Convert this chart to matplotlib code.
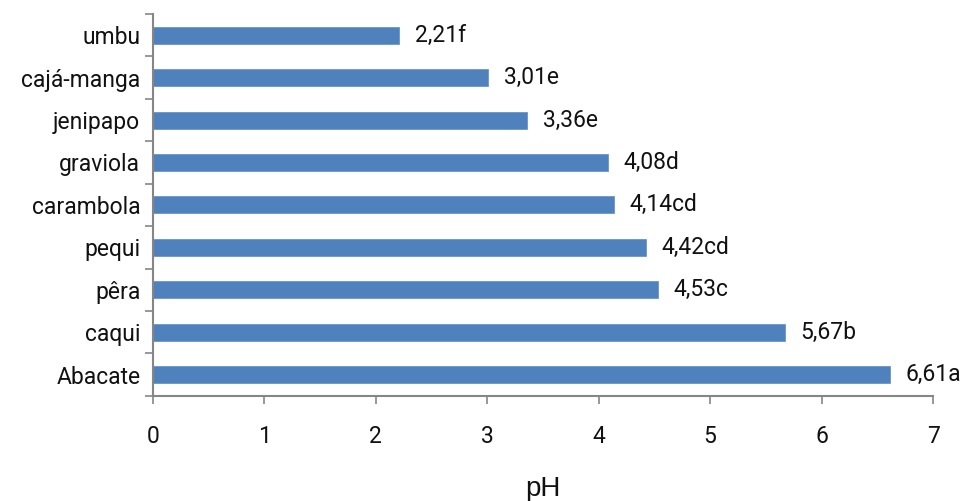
import matplotlib.pyplot as plt
import numpy as np

plt.rcParams["font.family"] = ["Roboto", "DejaVu Sans"]

frutas = ["Abacate", "caqui", "pêra", "pequi", "carambola",
          "graviola", "jenipapo", "cajá-manga", "umbu"]
ph = [6.61, 5.67, 4.53, 4.42, 4.14, 4.08, 3.36, 3.01, 2.21]
letras = ["a", "b", "c", "cd", "cd", "d", "e", "e", "f"]


def main():
    fig = plt.figure(figsize=(9.61, 5.01), dpi=100)
    ax = fig.add_axes([0.159, 0.21, 0.812, 0.762])

    y = np.arange(len(frutas))
    ax.barh(y, ph, height=0.4, color="#4F81BD", edgecolor="#6A96CC", linewidth=0.6)

    # rótulos: valor com vírgula decimal + letra do teste de médias
    for yi, v, l in zip(y, ph, letras):
        ax.text(v + 0.14, yi, f"{v:.2f}".replace(".", ",") + l,
                va="center", ha="left", fontsize=16.5, color="#111111")

    ax.set_xlim(0, 7)
    ax.set_ylim(-0.5, len(frutas) - 0.5)
    ax.set_xticks(range(8))
    ax.set_yticks(np.arange(-0.5, len(frutas), 1.0))
    ax.set_yticklabels([])
    ax.set_yticks(y, minor=True)
    ax.set_yticklabels(frutas, minor=True, fontsize=16.5, color="#111111")
    ax.tick_params(axis="y", which="minor", length=0, pad=9)
    ax.tick_params(axis="y", which="major", length=6, color="#868686", width=1.2)
    ax.tick_params(axis="x", length=6, color="#868686", width=1.2, labelsize=16.5,
                   pad=15, labelcolor="#111111")

    for s in ["top", "right"]:
        ax.spines[s].set_visible(False)
    for s in ["left", "bottom"]:
        ax.spines[s].set_color("#868686")
        ax.spines[s].set_linewidth(1.5)

    ax.set_xlabel("pH", fontsize=20, labelpad=20, family="Liberation Sans",
                  color="#111111")

    fig.savefig("out.png", dpi=100)


if __name__ == "__main__":
    main()
